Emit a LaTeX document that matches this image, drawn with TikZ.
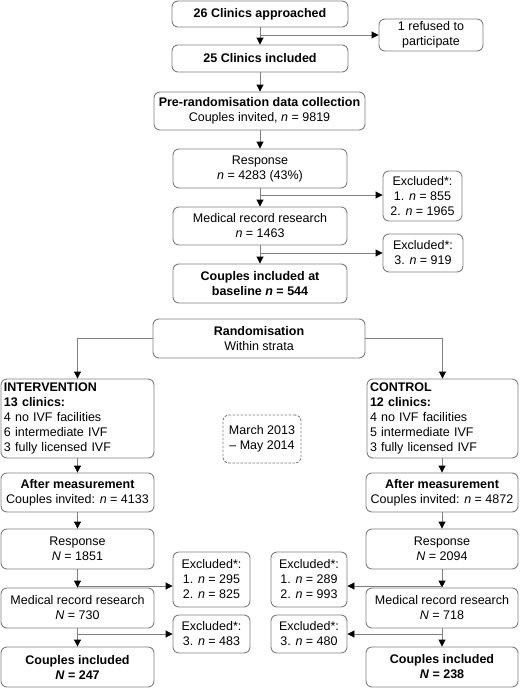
\documentclass[tikz,border=0pt]{standalone}
\usepackage{fontspec}
\setmainfont{Liberation Sans}
\usetikzlibrary{arrows.meta}
\definecolor{lg}{HTML}{808080}
\begin{document}
\begin{tikzpicture}[x=1pt,y=-1pt,
 box/.style={draw=lg, line width=0.9pt, rounded corners=6pt, align=center, inner sep=1pt, font=\fontsize{12.5}{15}\selectfont},
 lbox/.style={box, align=left, inner sep=3pt},
 ln/.style={draw=lg, line width=0.9pt},
 arr/.style={ln, -{Triangle[color=black,width=7pt,length=7pt]}},
]
\useasboundingbox (0,0) rectangle (520,688);
\fill[white] (0,0) rectangle (520,688);
% main column
\node[box,minimum width=176pt,minimum height=26pt] (c26) at (260,14) {\textbf{26 Clinics approached}};
\node[box,minimum width=104pt,minimum height=32pt] (ref) at (431,35) {1 refused to\\participate};
\node[box,minimum width=176pt,minimum height=27pt] (c25) at (260,58.5) {\textbf{25 Clinics included}};
\node[box,minimum width=211pt,minimum height=38pt] (pre) at (259.5,111) {\textbf{Pre-randomisation data collection}\\Couples invited, \textit{n} = 9819};
\node[box,minimum width=174pt,minimum height=39pt] (resp) at (260,168.5) {Response\\\textit{n} = 4283 (43\%)};
\node[box,minimum width=79pt,minimum height=50pt] (ex1) at (422.5,196) {Excluded*:\\1. \textit{n} = 855\\2. \textit{n} = 1965};
\node[box,minimum width=174pt,minimum height=38pt] (med) at (260,226) {Medical record research\\\textit{n} = 1463};
\node[box,minimum width=80pt,minimum height=38pt] (ex3) at (423,253) {Excluded*:\\3. \textit{n} = 919};
\node[box,minimum width=174pt,minimum height=39pt] (base) at (260,283.5) {\textbf{Couples included at}\\\textbf{baseline \textit{n} = 544}};
\node[box,minimum width=212pt,minimum height=39pt] (rand) at (259,338.5) {\textbf{Randomisation}\\Within strata};
% arms
\node[lbox,minimum width=153pt,minimum height=79pt,text width=147pt] (int) at (77.5,418.5) {\textbf{INTERVENTION}\\\textbf{13 clinics:}\\4 no IVF facilities\\6 intermediate IVF\\3 fully licensed IVF};
\node[lbox,minimum width=151pt,minimum height=79pt,text width=145pt] (ctl) at (442.5,418.5) {\textbf{CONTROL}\\\textbf{12 clinics:}\\4 no IVF facilities\\5 intermediate IVF\\3 fully licensed IVF};
\node[box,draw=lg,dashed,dash pattern=on 2.5pt off 1.5pt,minimum width=78pt,minimum height=48pt] (mar) at (262,439) {March 2013\\– May 2014};
% left column
\node[box,minimum width=153pt,minimum height=39pt] (amL) at (77.5,492.5) {\textbf{After measurement}\\Couples invited: \textit{n} = 4133};
\node[box,minimum width=153pt,minimum height=40pt] (respL) at (77.5,549) {Response\\\textit{N} = 1851};
\node[box,minimum width=77pt,minimum height=55pt] (exL1) at (211.5,579.5) {Excluded*:\\1. \textit{n} = 295\\2. \textit{n} = 825};
\node[box,minimum width=153pt,minimum height=40pt] (medL) at (77.5,608) {Medical record research\\\textit{N} = 730};
\node[box,minimum width=77pt,minimum height=38pt] (exL3) at (211.5,634) {Excluded*:\\3. \textit{n} = 483};
\node[box,minimum width=153pt,minimum height=40pt] (incL) at (77.5,667) {\textbf{Couples included}\\\textbf{\textit{N} = 247}};
% right column
\node[box,minimum width=152pt,minimum height=39pt] (amR) at (442,492.5) {\textbf{After measurement}\\Couples invited: \textit{n} = 4872};
\node[box,minimum width=152pt,minimum height=40pt] (respR) at (442,549) {Response\\\textit{N} = 2094};
\node[box,minimum width=76pt,minimum height=55pt] (exR1) at (309,579.5) {Excluded*:\\1. \textit{n} = 289\\2. \textit{n} = 993};
\node[box,minimum width=152pt,minimum height=40pt] (medR) at (442,608) {Medical record research\\\textit{N} = 718};
\node[box,minimum width=76pt,minimum height=38pt] (exR3) at (309,634) {Excluded*:\\3. \textit{n} = 480};
\node[box,minimum width=152pt,minimum height=40pt] (incR) at (442,667) {\textbf{Couples included}\\\textbf{\textit{N} = 238}};
% connectors main
\draw[arr] (c26.south) -- (c25.north);
\coordinate (b1) at (260,35);
\draw[arr] (b1) -- (ref.west |- b1);
\draw[arr] (c25.south) -- (pre.north -| c25.south);
\draw[arr] (pre.south -| resp.north) -- (resp.north);
\draw[arr] (resp.south) -- (med.north);
\coordinate (b2) at (260,195);
\draw[arr] (b2) -- (ex1.west |- b2);
\draw[arr] (med.south) -- (base.north);
\coordinate (b3) at (260,253);
\draw[arr] (b3) -- (ex3.west |- b3);
\draw[arr] (rand.west) -| (int.north);
\draw[arr] (rand.east) -| (ctl.north);
% left connectors
\draw[arr] (int.south) -- (amL.north);
\draw[arr] (amL.south) -- (respL.north);
\draw[arr] (respL.south) -- (medL.north);
\coordinate (bL1) at (77.5,586);
\draw[arr] (bL1) -- (exL1.west |- bL1);
\draw[arr] (medL.south) -- (incL.north);
\coordinate (bL3) at (77.5,634);
\draw[arr] (bL3) -- (exL3.west |- bL3);
% right connectors
\draw[arr] (ctl.south -| amR.north) -- (amR.north);
\draw[arr] (amR.south) -- (respR.north);
\draw[arr] (respR.south) -- (medR.north);
\coordinate (bR1) at (442,586);
\draw[arr] (bR1) -- (exR1.east |- bR1);
\draw[arr] (medR.south) -- (incR.north);
\coordinate (bR3) at (442,634);
\draw[arr] (bR3) -- (exR3.east |- bR3);
\end{tikzpicture}
\end{document}
